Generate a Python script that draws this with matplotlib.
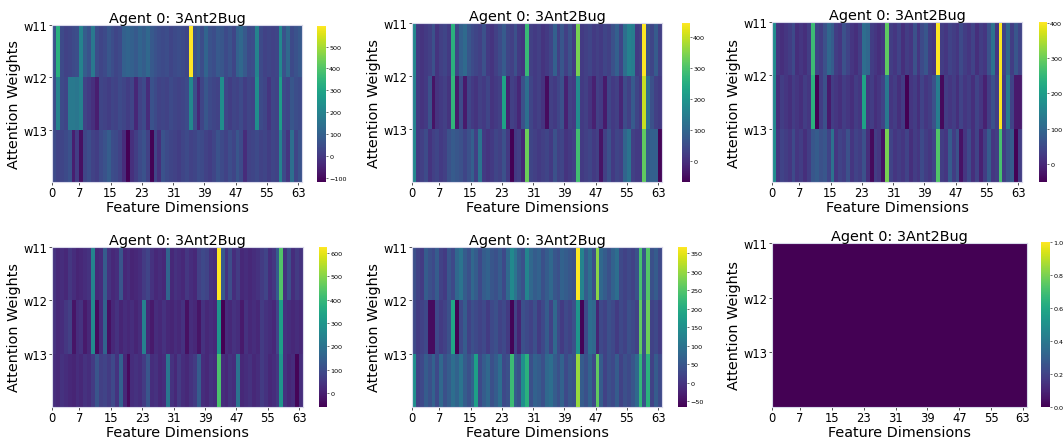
import numpy as np
import matplotlib
matplotlib.use("Agg")
import matplotlib.pyplot as plt

W, H = 1063, 439

row_labels = ["w11", "w12", "w13"]
x_ticks = [0, 7, 15, 23, 31, 39, 47, 55, 63]
title = "Agent 0: 3Ant2Bug"

p1_w11 = [60,330,40,20,30,40,50,200,90,60, 170,50,30,40,70,50,30,40,100,110, 100,80,110,90,120,80,60,50,40,50,
          30,40,50,40,30,594,60,90,50,110, 60,50,80,70,40,60,30,100,120,80, 40,50,200,40,20,30,20,30,220,60, 120,40,60,80]
p1_w12 = [50,200,40,30,170,170,160,190,20,0, -20,-60,30,20,10,30,20,40,30,10, 30,-40,20,40,-30,60,40,20,30,20,
          40,30,20,30,40,210,50,-40,30,70, 40,30,20,230,30,10,30,20,40,10, 30,20,230,40,30,-10,30,20,280,40, 30,70,50,40]
p1_w13 = [40,20,30,40,60,-60,10,-90,30,50, 20,10,40,60,90,50,40,20,-30,-120, -20,10,40,60,20,-115,30,-20,60,40,
          30,20,10,30,40,20,30,50,40,20, 10,30,60,40,20,50,30,70,40,-30, 20,30,40,20,30,10,30,20,200,40, -10,140,30,60]

p2_w11 = [170,20,10,20,30,60,10,30,40,20, 260,40,90,110,70,50,40,30,60,20, 10,30,50,80,40,30,60,20,10,280,
          30,20,30,10,20,40,90,30,70,30, 60,20,340,20,30,40,20,30,20,40, 30,60,90,40,120,160,150,20,30,444, 60,40,80,30]
p2_w12 = [160,20,10,20,60,-40,10,20,30,10, 270,-30,50,-30,40,20,10,30,20,40, 10,20,30,230,-20,30,20,-10,60,120,
          40,20,30,10,-50,30,20,40,60,-20, 30,20,180,20,30,10,-20,30,20,-30, 40,20,30,-10,50,30,80,40,20,400, 120,60,30,20]
p2_w13 = [170,20,30,50,10,30,40,20,30,60, 80,70,60,40,60,90,30,130,20,10, 20,40,30,60,20,-67,20,30,-10,330,
          40,30,20,30,40,20,60,30,40,10, 20,30,290,20,30,40,20,30,-40,30, 60,20,40,30,100,130,30,20,20,320, 80,90,90,-60]

p3_w11 = [170,20,10,20,30,50,10,20,10,30, 260,40,30,60,100,80,30,20,60,40, 20,10,30,110,100,30,20,10,20,290,
          30,20,40,10,30,20,60,20,50,70, 30,20,403,30,20,40,30,20,50,30, 20,40,10,30,20,60,120,20,400,40, 100,30,70,40]
p3_w12 = [160,10,30,20,10,30,20,10,30,20, 240,-50,30,60,-20,30,20,10,30,20, 10,30,20,210,20,30,10,20,40,130,
          20,30,10,30,-52,20,30,10,40,20, 30,60,140,-40,30,20,30,10,40,20, 30,10,40,20,-10,30,60,30,400,30, 140,40,-20,-20]
p3_w13 = [170,20,40,30,20,50,20,30,10,30, 70,80,60,70,40,120,20,40,30,60, 20,40,30,60,10,-40,30,20,-30,310,
          40,20,30,20,40,10,30,20,50,30, 20,40,280,30,20,80,30,60,-30,20, 50,10,40,-10,30,80,20,30,270,30, 60,80,-50,30]

p4_w11 = [40,20,30,20,50,30,10,20,30,40, 250,20,30,140,40,20,30,120,20,30, 10,20,30,60,80,40,20,30,20,160,
          20,40,30,20,50,30,20,70,90,80, 40,30,625,130,40,100,30,60,20,30, 20,30,40,60,80,30,50,140,440,40, 100,30,60,40]
p4_w12 = [40,20,30,50,70,-20,30,40,-10,20, 270,-40,30,160,-30,20,40,10,30,20, 30,10,30,240,20,-10,30,20,40,20,
          10,30,20,40,-30,30,20,-20,40,20, 30,20,300,-60,30,20,40,30,-10,40, 20,30,20,60,40,30,20,80,330,40, 30,20,30,20]
p4_w13 = [30,20,40,30,20,10,30,20,40,30, 60,120,70,80,60,90,40,150,20,-40, 30,40,30,60,120,30,40,20,30,210,
          40,20,60,30,20,40,60,140,30,20, 40,30,430,30,20,40,30,200,20,30, 40,20,30,60,40,20,30,50,300,40, 20,30,-50,30]

p5_w11 = [40,20,10,60,40,30,60,20,10,50, 30,80,100,60,40,80,60,30,60,70, 50,40,60,30,80,140,100,60,40,130,
          80,60,70,40,60,80,50,40,70,60, 50,40,366,130,60,90,40,290,80,60, 40,70,90,30,20,30,20,40,240,50, 250,40,60,30]
p5_w12 = [30,10,20,30,-50,-50,30,10,20,40, 190,-65,30,60,20,40,30,20,30,10, 30,40,20,30,10,-60,20,-20,40,30,
          20,40,10,30,60,20,80,30,10,30, 20,40,160,-60,30,90,80,-20,30,20, 40,30,10,30,20,40,30,20,260,40, 270,20,30,10]
p5_w13 = [150,20,30,60,40,70,30,80,40,60, 90,70,100,60,40,70,180,30,60,80, 40,60,90,30,40,230,60,40,150,210,
          40,70,60,40,80,90,60,40,70,30, 50,40,300,60,40,70,30,260,60,20, 40,30,60,20,40,30,50,80,220,40, 210,20,60,30]

p6_w11 = [0] * 64
p6_w12 = [0] * 64
p6_w13 = [0] * 64

panels = [
    [p1_w11, p1_w12, p1_w13],
    [p2_w11, p2_w12, p2_w13],
    [p3_w11, p3_w12, p3_w13],
    [p4_w11, p4_w12, p4_w13],
    [p5_w11, p5_w12, p5_w13],
    [p6_w11, p6_w12, p6_w13],
]
cbar_ticks = [
    [-100, 0, 100, 200, 300, 400, 500],
    [0, 100, 200, 300, 400],
    [0, 100, 200, 300, 400],
    [0, 100, 200, 300, 400, 500, 600],
    [-50, 0, 50, 100, 150, 200, 250, 300, 350],
    [0.0, 0.2, 0.4, 0.6, 0.8, 1.0],
]

# layout in pixels: (heat x0, y0, x1, y1), (cbar x0, y0, x1, y1)
layout = [
    ((52, 26, 302, 183), (317, 27, 326, 183)),
    ((412, 24, 662, 183), (682, 24, 690, 183)),
    ((772, 23, 1022, 183), (1039, 23, 1047, 183)),
    ((52, 248, 303, 408), (319, 248, 327, 408)),
    ((412, 248, 662, 408), (678, 248, 687, 408)),
    ((772, 244, 1027, 408), (1041, 243, 1050, 408)),
]

def rect(x0, y0, x1, y1):
    return [x0 / W, 1 - y1 / H, (x1 - x0) / W, (y1 - y0) / H]

fig = plt.figure(figsize=(W / 100, H / 100), dpi=100)

for data, ticks, (hr, cr) in zip(panels, cbar_ticks, layout):
    arr = np.array(data, dtype=float)
    ax = fig.add_axes(rect(*hr))
    cax = fig.add_axes(rect(*cr))
    if arr.max() == arr.min():
        vmin, vmax = 0.0, 1.0
    else:
        vmin, vmax = arr.min(), arr.max()
    im = ax.imshow(arr, aspect="auto", cmap="viridis", extent=(0, arr.shape[1], arr.shape[0], 0),
                   interpolation="nearest", vmin=vmin, vmax=vmax)
    ax.set_yticks([0, 1, 2])
    ax.set_yticklabels(row_labels)
    ax.set_xticks(x_ticks)
    ax.set_xticklabels([str(t) for t in x_ticks])
    ax.tick_params(axis="both", labelsize=8.3, length=2.0, width=0.6, pad=1.2, color="#333333")
    ax.set_title(title, fontsize=10.4, pad=1.5)
    ax.set_xlabel("Feature Dimensions", fontsize=10.4, labelpad=0.5)
    ax.set_ylabel("Attention Weights", fontsize=10.4, labelpad=1.5)
    for s in ax.spines.values():
        s.set_color("#d8d8ea")
        s.set_linewidth(0.8)
    cb = fig.colorbar(im, cax=cax)
    cb.set_ticks(ticks)
    cb.ax.tick_params(labelsize=4.6, length=1.5, width=0.4, pad=0.8)
    cb.outline.set_visible(False)

fig.savefig("out.png", dpi=100)
